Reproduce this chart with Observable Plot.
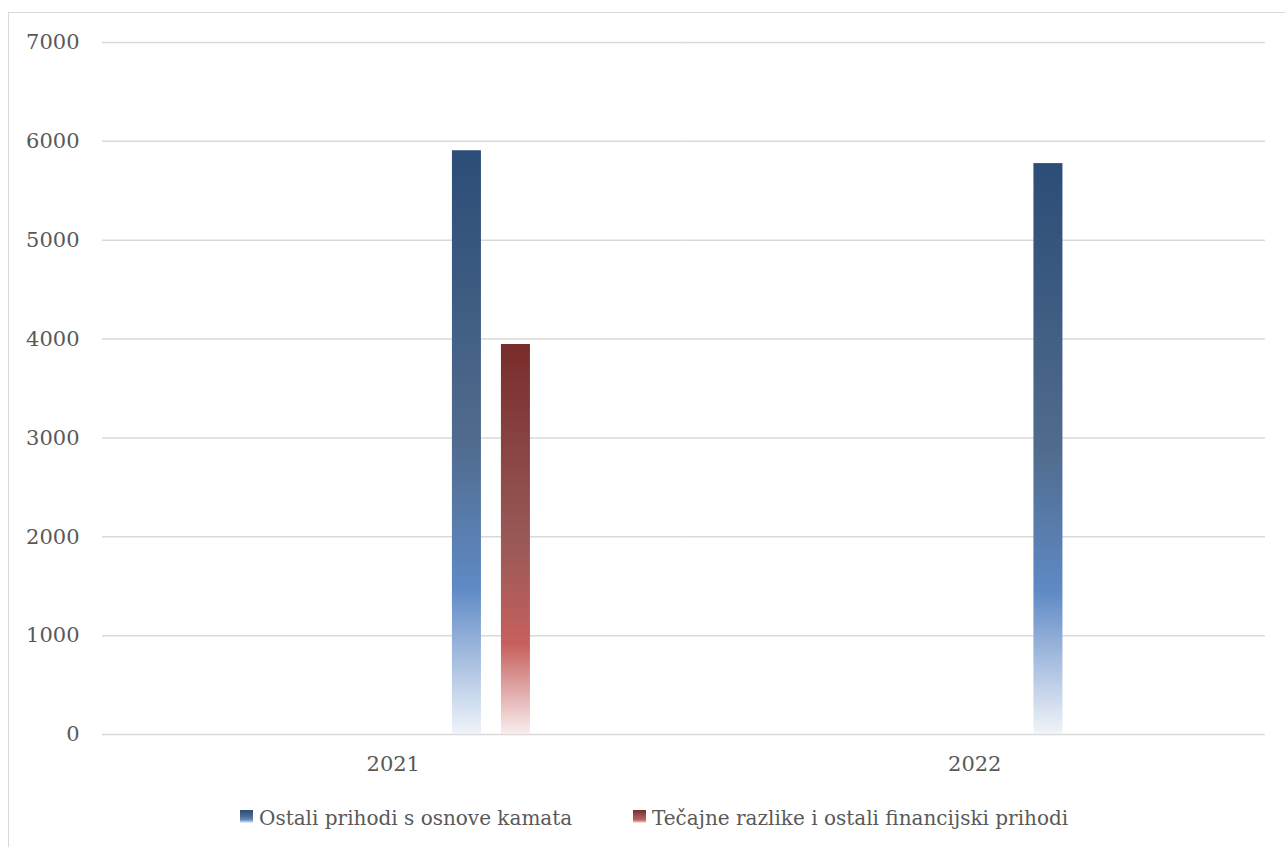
<!DOCTYPE html>
<html>
<head>
<meta charset="utf-8">
<script src="https://cdn.jsdelivr.net/npm/d3@7"></script>
<script src="https://cdn.jsdelivr.net/npm/@observablehq/plot@0.6"></script>
<style>
  html, body { margin: 0; padding: 0; background: #ffffff; }
  #wrap { position: relative; width: 1285px; height: 847px; overflow: hidden; background: #ffffff; }
  #frame { position: absolute; left: 8px; top: 12px; width: 1400px; height: 900px;
           border-top: 1.5px solid #d9d9d9; border-left: 1.5px solid #d9d9d9; }
  #chart { position: absolute; left: 0; top: 0; }
  .leg { position: absolute; font-family: "DejaVu Serif", serif; font-size: 20px; line-height: 20px; color: #595959; white-space: nowrap; }
  .sw { position: absolute; width: 13px; height: 13px; }
</style>
</head>
<body>
<div id="wrap">
  <div id="frame"></div>
  <div id="chart"></div>
</div>
<script>
// ---- data ----
const years = ["2021", "2022"];
const seriesNames = ["Ostali prihodi s osnove kamata", "Tečajne razlike i ostali financijski prihodi"];
const kamata = [5905, 5775];   // Ostali prihodi s osnove kamata
const tecajne = [3945, 0];     // Tečajne razlike i ostali financijski prihodi
const yTicks = [0, 1000, 2000, 3000, 4000, 5000, 6000, 7000];

const rows = years.flatMap((yr, i) => [
  {year: yr, series: seriesNames[0], value: kamata[i]},
  {year: yr, series: seriesNames[1], value: tecajne[i]}
]);

const blueStops = [["0%", "#2c4d77"], ["50%", "#506b8d"], ["75%", "#5f8ac5"], ["100%", "#f0f4fa"]];
const redStops  = [["0%", "#782c2b"], ["50%", "#985957"], ["77%", "#c6605e"], ["100%", "#f9eeee"]];

const svg = Plot.plot({
  width: 1285,
  height: 790,
  marginTop: 42,
  marginBottom: 56,
  marginLeft: 102,
  marginRight: 20,
  style: {fontFamily: "DejaVu Serif, serif", fontSize: "21px", color: "#595959", background: "none", overflow: "visible"},
  y: {domain: [0, 7000], ticks: yTicks, tickSize: 0, tickPadding: 23, label: null, tickFormat: d => String(d)},
  fx: {domain: years, padding: 0, round: false, axis: "bottom", label: null, tickSize: 0, tickPadding: 22},
  x: {domain: seriesNames, axis: null, round: false, paddingInner: 0.408, paddingOuter: 5.138, align: 0.695},
  marks: [
    Plot.ruleY(yTicks, {stroke: "#d9d9d9", strokeWidth: 1.5}),
    Plot.barY(rows.filter(d => d.series === seriesNames[0]), {fx: "year", x: "series", y: "value", fill: "url(#gBlue)"}),
    Plot.barY(rows.filter(d => d.series === seriesNames[1]), {fx: "year", x: "series", y: "value", fill: "url(#gRed)"})
  ]
});

const defs = d3.select(svg).insert("defs", ":first-child");
function addGrad(id, stops) {
  const g = defs.append("linearGradient").attr("id", id)
    .attr("x1", 0).attr("y1", 0).attr("x2", 0).attr("y2", 1);
  stops.forEach(([o, c]) => g.append("stop").attr("offset", o).attr("stop-color", c));
}
addGrad("gBlue", blueStops);
addGrad("gRed", redStops);

document.getElementById("chart").appendChild(svg);

// ---- legend (below the chart) ----
const wrap = document.getElementById("wrap");
const legItems = [
  {name: seriesNames[0], stops: blueStops, left: 240},
  {name: seriesNames[1], stops: redStops, left: 633}
];
legItems.forEach(it => {
  const sw = document.createElement("div");
  sw.className = "sw";
  sw.style.left = it.left + "px";
  sw.style.top = "810px";
  sw.style.background = "linear-gradient(to bottom, " + it.stops.map(s => s[1] + " " + s[0]).join(", ") + ")";
  wrap.appendChild(sw);
  const tx = document.createElement("div");
  tx.className = "leg";
  tx.style.left = (it.left + 19) + "px";
  tx.style.top = "808px";
  tx.textContent = it.name;
  wrap.appendChild(tx);
});
</script>
</body>
</html>
